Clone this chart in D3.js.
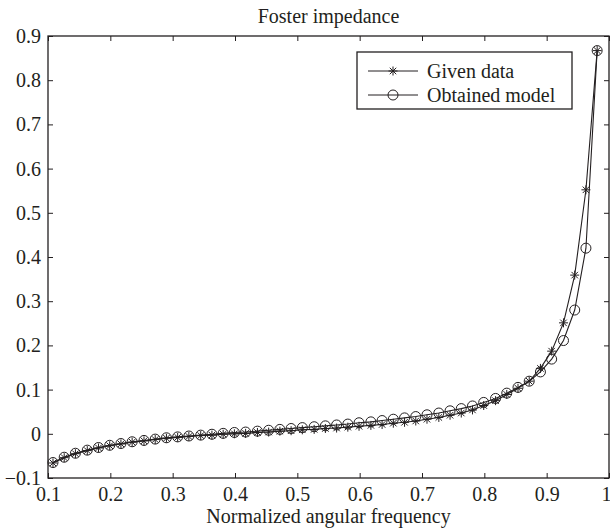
<!DOCTYPE html>
<html>
<head>
<meta charset="utf-8">
<script src="https://cdn.jsdelivr.net/npm/d3@7"></script>
<style>
  body { margin: 0; background: #fff; }
  svg text { font-family: "Liberation Serif", "Times New Roman", serif; fill: #231f20; }
</style>
</head>
<body>
<div class="chart"></div>
<script>
'use strict';

// normalized angular frequency samples
const freq = [0.108, 0.126, 0.144, 0.163, 0.181, 0.199, 0.217, 0.235, 0.254, 0.272,
  0.290, 0.308, 0.326, 0.345, 0.363, 0.381, 0.399, 0.417, 0.436, 0.454,
  0.472, 0.490, 0.508, 0.527, 0.545, 0.563, 0.581, 0.599, 0.618, 0.636,
  0.654, 0.672, 0.690, 0.708, 0.727, 0.745, 0.763, 0.781, 0.799, 0.818,
  0.836, 0.854, 0.872, 0.890, 0.908, 0.927, 0.945, 0.963, 0.981];

const givenData = [-0.066, -0.054, -0.045, -0.038, -0.032, -0.027, -0.023, -0.019, -0.016, -0.013,
  -0.010, -0.008, -0.006, -0.004, -0.003, -0.001, 0.000, 0.001, 0.003, 0.004,
  0.006, 0.007, 0.009, 0.010, 0.012, 0.013, 0.015, 0.017, 0.019, 0.021,
  0.024, 0.026, 0.029, 0.033, 0.037, 0.042, 0.047, 0.054, 0.064, 0.075,
  0.089, 0.103, 0.119, 0.148, 0.187, 0.251, 0.359, 0.552, 0.867];

const obtainedModel = [-0.065, -0.053, -0.044, -0.037, -0.031, -0.026, -0.022, -0.018, -0.015, -0.012,
  -0.009, -0.007, -0.005, -0.003, -0.001, 0.001, 0.003, 0.004, 0.006, 0.008,
  0.010, 0.012, 0.014, 0.016, 0.018, 0.020, 0.022, 0.025, 0.027, 0.030,
  0.033, 0.036, 0.039, 0.043, 0.047, 0.052, 0.057, 0.063, 0.071, 0.080,
  0.092, 0.105, 0.119, 0.140, 0.169, 0.211, 0.280, 0.420, 0.867];

const xTicks = [0.1, 0.2, 0.3, 0.4, 0.5, 0.6, 0.7, 0.8, 0.9, 1];
const yTicks = [-0.1, 0, 0.1, 0.2, 0.3, 0.4, 0.5, 0.6, 0.7, 0.8, 0.9];
const seriesNames = ['Given data', 'Obtained model'];

const W = 610, H = 529;
const margin = {top: 36, right: 1, bottom: 51, left: 48};
const width = W - margin.left - margin.right;
const height = H - margin.top - margin.bottom;
const ink = '#231f20';
const fontSize = 20;
const fmt = d3.format('~g');

const xScale = d3.scaleLinear().domain([0.1, 1]).range([0, width]);
const yScale = d3.scaleLinear().domain([-0.1, 0.9]).range([height, 0]);

const svg = d3.select('.chart').append('svg')
  .attr('width', W)
  .attr('height', H);

const g = svg.append('g')
  .attr('transform', `translate(${margin.left},${margin.top})`);

function styleAxis(sel) {
  sel.select('.domain').remove();
  sel.selectAll('.tick line').attr('stroke', ink).attr('stroke-width', 1);
  sel.selectAll('.tick text').style('font-size', fontSize + 'px').attr('fill', ink);
}

const xAxisG = g.append('g')
  .attr('transform', `translate(0,${height})`)
  .call(d3.axisBottom(xScale).tickValues(xTicks).tickFormat(fmt).tickSize(-5).tickPadding(9))
  .call(styleAxis);

// last label sits on the page edge: keep it inside
xAxisG.selectAll('.tick:last-of-type text')
  .attr('text-anchor', 'end')
  .attr('x', 2);

g.append('g')
  .call(d3.axisTop(xScale).tickValues(xTicks).tickFormat('').tickSize(-5))
  .call(styleAxis);

g.append('g')
  .call(d3.axisLeft(yScale).tickValues(yTicks).tickFormat(fmt).tickSize(-5).tickPadding(7))
  .call(styleAxis);

g.append('g')
  .attr('transform', `translate(${width},0)`)
  .call(d3.axisRight(yScale).tickValues(yTicks).tickFormat('').tickSize(-5))
  .call(styleAxis);

g.append('rect')
  .attr('width', width)
  .attr('height', height)
  .attr('fill', 'none')
  .attr('stroke', ink)
  .attr('stroke-width', 1.3);

const line = d3.line()
  .x(d => xScale(d[0]))
  .y(d => yScale(d[1]));

const given = freq.map((f, i) => [f, givenData[i]]);
const model = freq.map((f, i) => [f, obtainedModel[i]]);

function drawStar(sel, r) {
  sel.append('path')
    .attr('d', () => {
      const k = r * 0.72;
      return `M0,${-r}V${r}M${-r},0H${r}M${-k},${-k}L${k},${k}M${-k},${k}L${k},${-k}`;
    })
    .attr('stroke', ink)
    .attr('stroke-width', 1)
    .attr('fill', 'none');
}

function drawCircle(sel, r) {
  sel.append('circle')
    .attr('r', r)
    .attr('fill', 'none')
    .attr('stroke', ink)
    .attr('stroke-width', 1);
}

g.append('path')
  .datum(given)
  .attr('d', line)
  .attr('fill', 'none')
  .attr('stroke', ink)
  .attr('stroke-width', 1.1);

g.append('path')
  .datum(model)
  .attr('d', line)
  .attr('fill', 'none')
  .attr('stroke', ink)
  .attr('stroke-width', 1.1);

g.append('g').selectAll('g')
  .data(given)
  .join('g')
  .attr('transform', d => `translate(${xScale(d[0])},${yScale(d[1])})`)
  .call(drawStar, 4.5);

g.append('g').selectAll('g')
  .data(model)
  .join('g')
  .attr('transform', d => `translate(${xScale(d[0])},${yScale(d[1])})`)
  .call(drawCircle, 5);

// title and axis label
svg.append('text')
  .attr('x', margin.left + width / 2)
  .attr('y', 23)
  .attr('text-anchor', 'middle')
  .style('font-size', fontSize + 'px')
  .text('Foster impedance');

svg.append('text')
  .attr('x', margin.left + width / 2)
  .attr('y', 523)
  .attr('text-anchor', 'middle')
  .style('font-size', fontSize + 'px')
  .text('Normalized angular frequency');

// legend
const legend = svg.append('g').attr('transform', 'translate(357,52)');
legend.append('rect')
  .attr('width', 215)
  .attr('height', 57)
  .attr('fill', '#fff')
  .attr('stroke', ink)
  .attr('stroke-width', 1.3);

const rows = legend.selectAll('.row')
  .data(seriesNames)
  .join('g')
  .attr('class', 'row')
  .attr('transform', (d, i) => `translate(0,${19 + i * 24})`);

rows.append('line')
  .attr('x1', 11)
  .attr('x2', 61)
  .attr('stroke', ink)
  .attr('stroke-width', 1);

rows.filter((d, i) => i === 0).append('g')
  .attr('transform', 'translate(36,0)')
  .call(drawStar, 4.5);

rows.filter((d, i) => i === 1).append('g')
  .attr('transform', 'translate(36,0)')
  .call(drawCircle, 5);

rows.append('text')
  .attr('x', 70)
  .attr('dy', '0.33em')
  .style('font-size', fontSize + 'px')
  .text(d => d);
</script>
</body>
</html>
